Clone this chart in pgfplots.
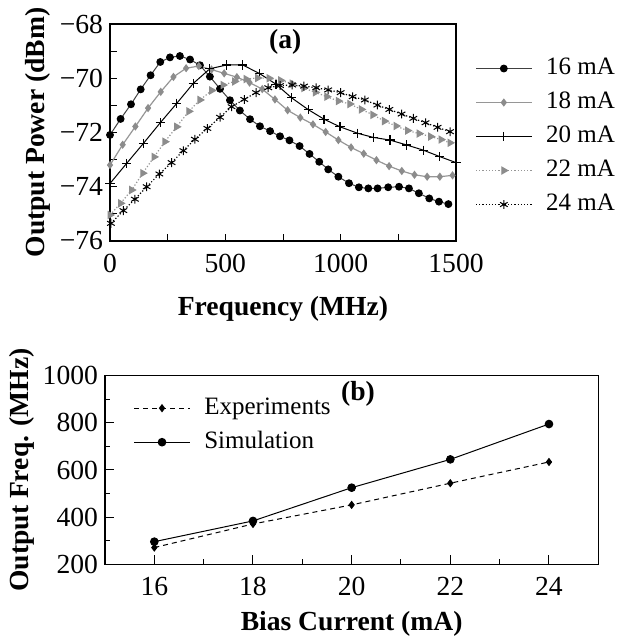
\documentclass[border=0pt]{standalone}
\usepackage{fontspec}
\setmainfont{Liberation Serif}
\usepackage{pgfplots}
\pgfplotsset{compat=1.18}
\definecolor{mgray}{RGB}{140,140,140}
\definecolor{lgray}{RGB}{150,150,150}
\begin{document}
\begin{tikzpicture}
\path[use as bounding box] (0pt,0pt) rectangle (308pt,318pt);
\pgfplotsset{
  myleg/.style={legend image code/.code={\draw[mark repeat=2,mark phase=2,##1] plot coordinates {(0pt,0pt) (13.9pt,0pt) (27.8pt,0pt)};}},
  mylegstyle/.style={draw=none, fill=none, inner sep=0pt, row sep=0pt,
    font=\fontsize{12.5}{15}\selectfont,
    nodes={inner sep=0pt, text height=11.5pt, text depth=5.5pt},
    /tikz/every odd column/.append style={column sep=7pt}},
}
\begin{axis}[
  at={(55pt,197.5pt)}, anchor=south west, scale only axis,
  width=173pt, height=108.5pt,
  xmin=0,xmax=1500,ymin=-76,ymax=-68,
  xtick={0,500,1000,1500}, minor xtick={250,750,1250},
  ytick={-76,-74,-72,-70,-68}, yticklabels={−76,−74,−72,−70,−68},
  minor ytick={-75,-73,-71,-69},
  tick pos=left, tick align=inside,
  major tick length=3.3pt, minor tick length=3.3pt,
  tick style={black, line width=0.5pt},
  axis line style={line width=0.6pt},
  ticklabel style={font=\fontsize{13.8}{16}\selectfont},
  xticklabel style={yshift=-3pt},
  /pgf/number format/assume math mode=true,
  /pgf/number format/1000 sep={},
  xlabel={Frequency (MHz)}, ylabel={Output Power (dBm)},
  label style={font=\fontsize{13.8}{16}\selectfont\bfseries},
  xlabel style={at={(axis description cs:0.5,-0.315)}, anchor=center},
  ylabel style={at={(axis description cs:-0.208,0.5)}, anchor=center},
  clip=false,
  myleg,
  legend style={mylegstyle, at={(axis description cs:1.055,0.875)}, anchor=north west},
  legend cell align=left,
]
\addplot[black!75, line width=0.5pt, mark=*, mark size=1.7pt, mark options={black}] table {
0 -72.09
46 -71.5
91 -70.96
133 -70.41
176 -69.89
218 -69.40
260 -69.23
303 -69.18
347 -69.31
390 -69.52
433 -69.94
477 -70.39
520 -70.81
563 -71.19
607 -71.51
650 -71.77
694 -71.95
737 -72.14
778 -72.29
822 -72.50
865 -72.79
907 -73.08
946 -73.36
990 -73.63
1036 -73.87
1079 -74.02
1120 -74.06
1160 -74.06
1206 -74.02
1253 -74.00
1296 -74.06
1339 -74.24
1384 -74.43
1426 -74.55
1467 -74.64
};
\addlegendentry{16 mA}
\addplot[lgray, line width=0.6pt, mark=diamond*, mark size=1.6pt, mark options={mgray}] table {
0 -73.2
55 -72.45
110 -71.78
165 -71.1
220 -70.5
275 -69.95
330 -69.63
385 -69.55
440 -69.68
495 -69.82
550 -69.96
605 -70.16
660 -70.40
715 -70.78
770 -71.18
825 -71.45
880 -71.7
935 -71.98
990 -72.28
1045 -72.55
1100 -72.78
1155 -73.02
1210 -73.24
1265 -73.42
1320 -73.56
1375 -73.63
1430 -73.63
1485 -73.58
};
\addlegendentry{18 mA}
\addplot[black, line width=0.5pt, mark=+, mark size=2.3pt, mark options={line width=0.6pt}] table {
0 -73.88
72 -73.14
145 -72.4
218 -71.64
290 -70.92
361 -70.19
433 -69.65
506 -69.51
575 -69.51
647 -69.82
720 -70.22
787 -70.72
860 -71.16
928 -71.51
997 -71.79
1074 -72.03
1141 -72.18
1214 -72.28
1286 -72.46
1358 -72.65
1430 -72.89
1500 -73.11
};
\addlegendentry{20 mA}
\addplot[lgray, densely dotted, line width=0.6pt, mark=triangle*, mark size=1.9pt, mark options={solid, mgray, rotate=-90}] table {
0 -75.04
46 -74.61
94 -74.12
142 -73.5
191 -72.9
238 -72.34
289 -71.79
342 -71.22
390 -70.8
441 -70.45
490 -70.25
540 -70.12
590 -70.03
640 -69.99
690 -70.0
740 -70.08
790 -70.2
840 -70.36
890 -70.52
940 -70.68
990 -70.84
1040 -70.95
1090 -71.15
1140 -71.35
1190 -71.58
1240 -71.76
1290 -71.93
1340 -72.04
1390 -72.15
1435 -72.26
1474 -72.38
};
\addlegendentry{22 mA}
\addplot[black, densely dotted, line width=0.6pt, mark=asterisk, mark size=2.2pt, mark options={solid, line width=0.5pt}] table {
4 -75.35
58 -74.88
108 -74.46
159 -74.00
214 -73.53
267 -73.11
318 -72.67
368 -72.25
422 -71.85
477 -71.44
527 -71.05
582 -70.78
633 -70.53
686 -70.35
737 -70.27
790 -70.25
841 -70.29
894 -70.35
946 -70.43
1000 -70.53
1052 -70.68
1105 -70.80
1159 -70.99
1211 -71.15
1264 -71.32
1315 -71.48
1368 -71.64
1420 -71.81
1474 -71.97
};
\addlegendentry{24 mA}
\node[font=\fontsize{13.8}{16}\selectfont\bfseries] at (axis cs:760,-68.65) {(a)};
\end{axis}

\begin{axis}[
  at={(52.5pt,35.85pt)}, anchor=south west, scale only axis,
  width=246.65pt, height=94.3pt,
  xmin=15,xmax=25,ymin=200,ymax=1000,
  xtick={16,18,20,22,24}, minor xtick={17,19,21,23},
  ytick={200,400,600,800,1000}, minor ytick={300,500,700,900},
  tick pos=left, tick align=inside,
  major tick length=4.5pt, minor tick length=2.5pt,
  tick style={black, line width=0.5pt},
  axis line style={line width=0.6pt},
  ticklabel style={font=\fontsize{13.8}{16}\selectfont},
  xticklabel style={yshift=-3pt},
  /pgf/number format/assume math mode=true,
  /pgf/number format/1000 sep={},
  xlabel={Bias Current (mA)}, ylabel={Output Freq. (MHz)},
  label style={font=\fontsize{13.8}{16}\selectfont\bfseries},
  xlabel style={at={(axis description cs:0.5,-0.315)}, anchor=center},
  ylabel style={at={(axis description cs:-0.168,0.5)}, anchor=center},
  clip=false,
  myleg,
  legend style={mylegstyle, at={(axis description cs:0.0574,0.92)}, anchor=north west},
  legend cell align=left,
]
\addplot[black, line width=0.5pt, dash pattern=on 2.5pt off 2pt, mark=diamond*, mark size=1.7pt, mark options={solid}] table {
16 271
18 371
20 452
22 544
24 634
};
\addlegendentry{Experiments}
\addplot[black, line width=0.5pt, mark=*, mark size=1.9pt] table {
16 296
18 384
20 525
22 645
24 795
};
\addlegendentry{Simulation}
\node[font=\fontsize{13.8}{16}\selectfont\bfseries] at (axis cs:20.13,925) {(b)};
\end{axis}
\end{tikzpicture}
\end{document}
